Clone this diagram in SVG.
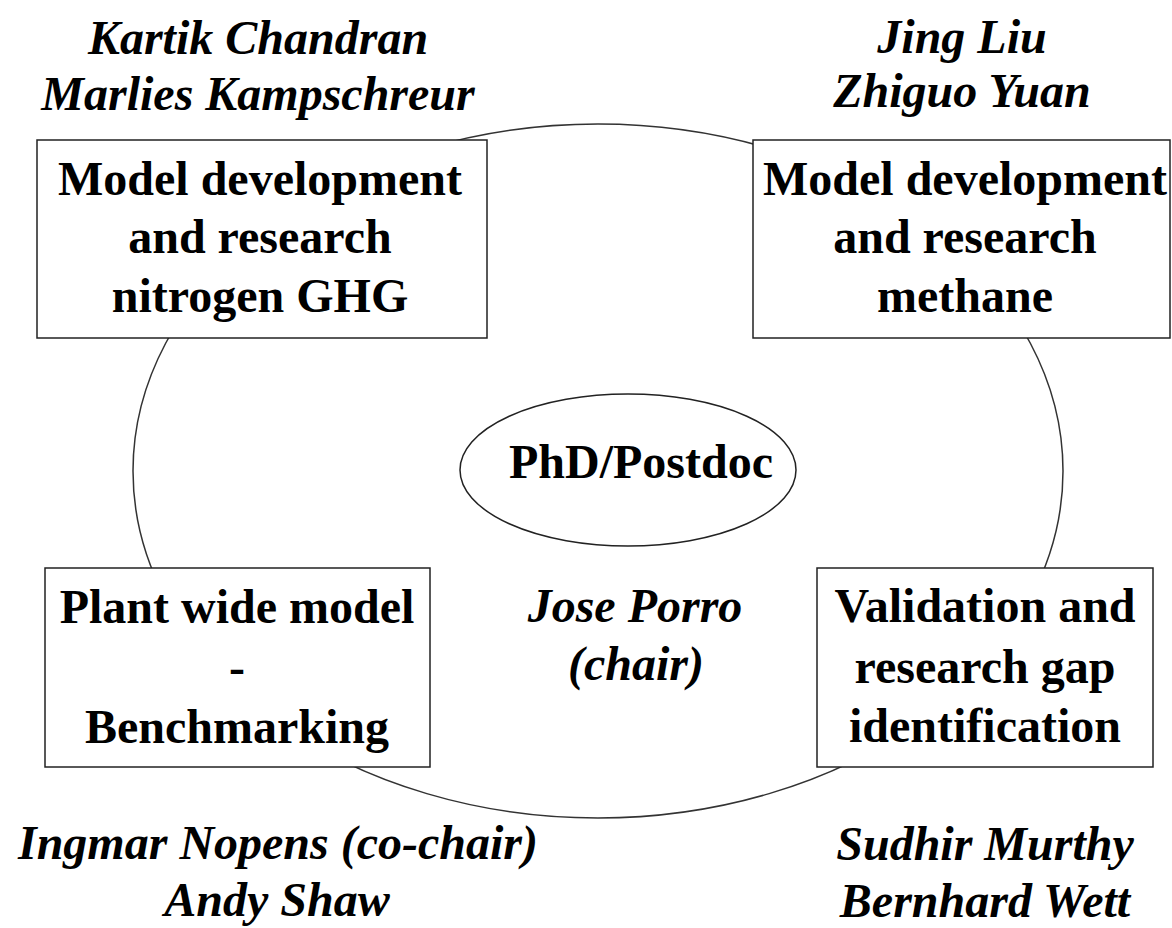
<svg xmlns="http://www.w3.org/2000/svg" width="1172" height="928" viewBox="0 0 1172 928">
<style>
.box{fill:#fff;stroke:#222;stroke-width:1.5}
.ring{fill:none;stroke:#333;stroke-width:1.5}
.t{font-family:'Liberation Serif',serif;font-size:48px;font-weight:bold;fill:#000;text-anchor:middle}
.n{font-family:'Liberation Serif',serif;font-size:48px;font-weight:bold;font-style:italic;fill:#000;text-anchor:middle}
</style>
<rect width="1172" height="928" fill="#fff"/>
<g id="connectors">
<ellipse class="ring" cx="598" cy="471" rx="465" ry="347"/>
</g>
<g id="names" font-family="Liberation Serif">
<text class="n" x="258" y="54">Kartik Chandran</text>
<text class="n" x="258" y="110">Marlies Kampschreur</text>
<text class="n" x="962" y="53">Jing Liu</text>
<text class="n" x="962" y="107">Zhiguo Yuan</text>
<text class="n" x="278" y="859">Ingmar Nopens (co-chair)</text>
<text class="n" x="277" y="916">Andy Shaw</text>
<text class="n" x="985" y="860">Sudhir Murthy</text>
<text class="n" x="985" y="917">Bernhard Wett</text>
</g>
<g id="node-nitrogen" font-family="Liberation Serif">
<rect class="box" x="37" y="140" width="450" height="198"/>
<text class="t" x="260" y="195">Model development</text>
<text class="t" x="260" y="253">and research</text>
<text class="t" x="260" y="312">nitrogen GHG</text>
</g>
<g id="node-methane" font-family="Liberation Serif">
<rect class="box" x="753" y="140" width="417" height="198"/>
<text class="t" x="965" y="195">Model development</text>
<text class="t" x="965" y="253">and research</text>
<text class="t" x="965" y="312">methane</text>
</g>
<g id="node-plantwide" font-family="Liberation Serif">
<rect class="box" x="45" y="568" width="385" height="199"/>
<text class="t" x="237" y="623">Plant wide model</text>
<text class="t" x="237" y="683">-</text>
<text class="t" x="237" y="743">Benchmarking</text>
</g>
<g id="node-validation" font-family="Liberation Serif">
<rect class="box" x="817" y="568" width="336" height="199"/>
<text class="t" x="985" y="622">Validation and</text>
<text class="t" x="985" y="683">research gap</text>
<text class="t" x="985" y="742">identification</text>
</g>
<g id="node-phd" font-family="Liberation Serif">
<ellipse class="box" cx="628" cy="470" rx="168" ry="76"/>
<text class="t" x="641" y="478">PhD/Postdoc</text>
</g>
<g id="chair" font-family="Liberation Serif">
<text class="n" x="635" y="622">Jose Porro</text>
<text class="n" x="636" y="680">(chair)</text>
</g>
</svg>
